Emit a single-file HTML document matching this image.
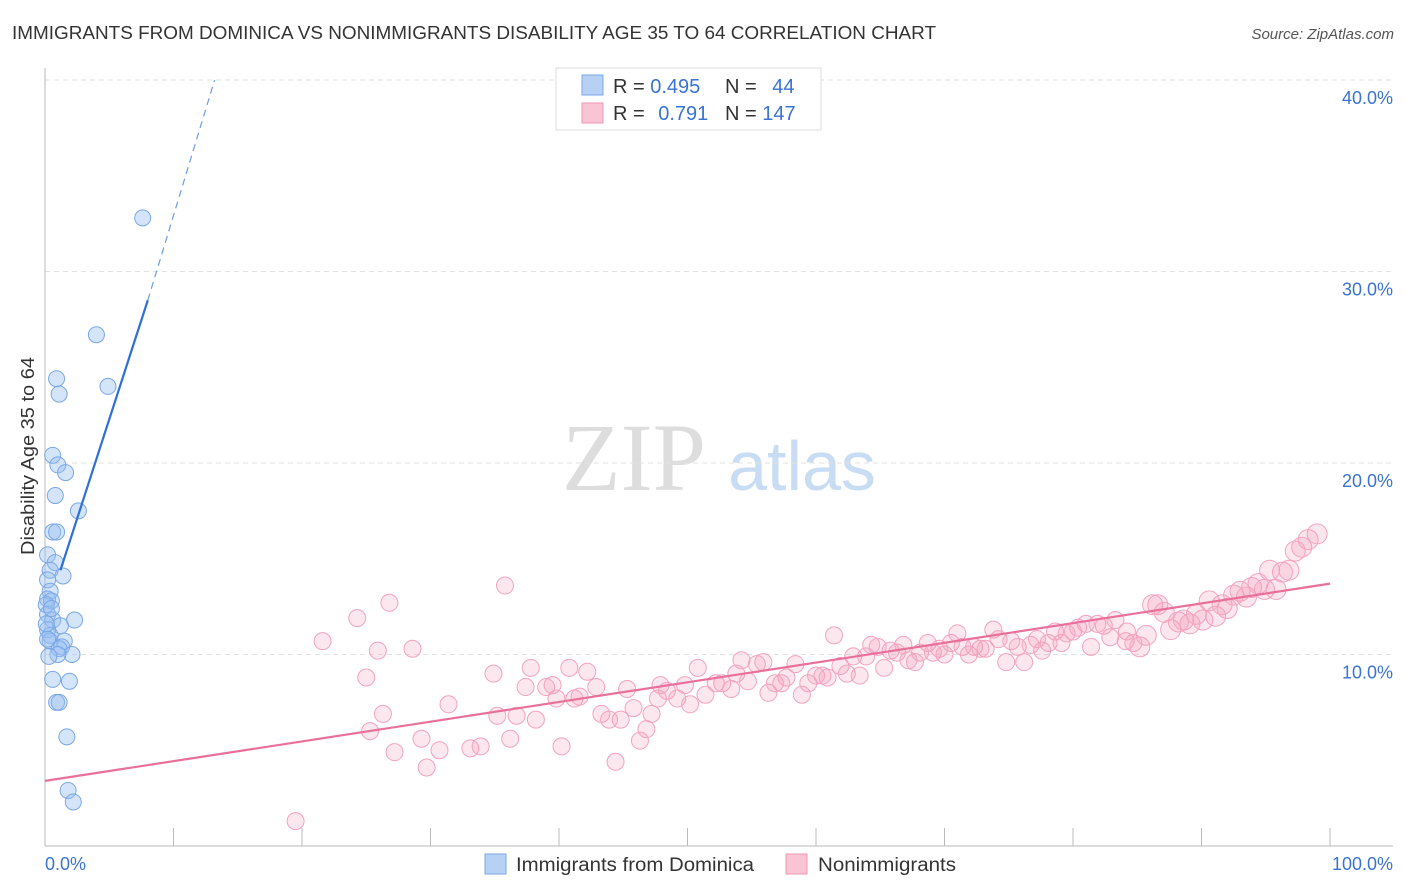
<!DOCTYPE html>
<html><head><meta charset="utf-8"><style>
body{margin:0;background:#fff;font-family:"Liberation Sans",sans-serif;}
svg{display:block}
</style></head><body>
<svg width="1406" height="892" xmlns="http://www.w3.org/2000/svg">
<text x="12" y="39" font-size="18" fill="#333" textLength="924" lengthAdjust="spacingAndGlyphs">IMMIGRANTS FROM DOMINICA VS NONIMMIGRANTS DISABILITY AGE 35 TO 64 CORRELATION CHART</text>
<text x="1394" y="39" font-size="15" fill="#555" font-style="italic" text-anchor="end">Source: ZipAtlas.com</text>
<text x="634" y="490" font-size="96" fill="#ddd" font-family="Liberation Serif,serif" text-anchor="middle">ZIP</text>
<text x="802" y="490" font-size="70" fill="#c8dcf3" text-anchor="middle">atlas</text>
<g id="grid"></g>
<g id="axes"></g>
<text transform="translate(34,456) rotate(-90)" font-size="18" fill="#333" text-anchor="middle" textLength="198" lengthAdjust="spacingAndGlyphs">Disability Age 35 to 64</text>
<g id="marks"></g>
<g>
<rect x="556" y="68" width="265" height="62" fill="#fff" stroke="#ddd"/>
<rect x="582" y="75" width="21" height="20" fill="#b7d1f4" stroke="#7aa7e6"/>
<rect x="582" y="103" width="21" height="20" fill="#f9c5d5" stroke="#f097b3"/>
<text x="613" y="93" font-size="20" fill="#333">R = <tspan fill="#3b73d1">0.495</tspan></text>
<text x="725" y="93" font-size="20" fill="#333">N = <tspan fill="#3b73d1" dx="10">44</tspan></text>
<text x="613" y="120" font-size="20" fill="#333">R = <tspan fill="#3b73d1" dx="8">0.791</tspan></text>
<text x="725" y="120" font-size="20" fill="#333">N = <tspan fill="#3b73d1">147</tspan></text>
</g>
<g>
<rect x="485" y="854" width="21" height="20" fill="#b7d1f4" stroke="#7aa7e6"/>
<text x="516" y="871" font-size="19" fill="#333" textLength="238" lengthAdjust="spacingAndGlyphs">Immigrants from Dominica</text>
<rect x="786" y="854" width="21" height="20" fill="#f9c5d5" stroke="#f097b3"/>
<text x="818" y="871" font-size="19" fill="#333" textLength="138" lengthAdjust="spacingAndGlyphs">Nonimmigrants</text>
</g>
</svg>
<script>
const yTicks=[10,20,30,40];
const yTickLabels=["10.0%","20.0%","30.0%","40.0%"];
const xEndLabels=["0.0%","100.0%"];
const blueX=[7.6,4.0,0.9,4.9,1.1,0.6,1.0,1.6,0.8,2.6,0.6,0.9,0.2,0.8,0.4,1.4,0.2,0.4,0.2,0.5,0.1,0.2,2.3,0.6,1.2,0.2,0.4,0.4,1.5,1.3,1.1,2.1,1.0,0.6,1.9,0.9,1.1,1.7,1.8,2.2,0.2,0.5,0.1,0.3];
const blueY=[32.8,26.7,24.4,24.0,23.6,20.4,19.9,19.5,18.3,17.5,16.4,16.4,15.2,14.8,14.4,14.1,13.9,13.3,12.9,12.8,12.6,12.1,11.8,11.8,11.5,11.3,11.0,10.7,10.7,10.4,10.3,10.0,10.0,8.7,8.6,7.5,7.5,5.7,2.9,2.3,10.8,12.4,11.6,9.9];
const pinkX=[19.5,21.6,24.3,25.0,25.3,25.9,26.8,27.2,26.3,28.6,29.3,29.7,30.7,31.4,33.1,33.9,34.9,35.2,35.8,36.2,36.7,37.4,37.8,38.2,39.0,39.5,39.8,40.2,40.8,41.2,41.6,42.2,42.9,43.3,43.9,44.4,44.8,45.3,45.8,46.3,46.8,47.2,47.7,47.9,48.4,49.2,49.8,50.2,50.8,51.4,52.2,52.7,53.4,53.8,54.2,54.7,55.4,55.9,56.3,56.8,57.3,57.7,58.4,58.9,59.4,60.0,60.5,60.9,61.4,61.9,62.4,62.9,63.4,63.9,64.3,64.8,65.3,65.8,66.3,66.8,67.2,67.7,68.1,68.7,69.1,69.6,70.0,70.5,71.0,71.4,71.9,72.3,72.8,73.2,73.8,74.2,74.8,75.2,75.7,76.2,76.7,77.2,77.6,78.1,78.6,79.1,79.5,80.0,80.4,81.0,81.4,81.9,82.4,82.9,83.3,84.1,84.2,84.7,85.2,85.7,86.2,86.6,87.1,87.6,88.2,88.6,89.1,89.6,90.1,90.6,91.1,91.6,92.0,92.5,93.0,93.5,93.9,94.4,94.9,95.3,95.8,96.3,96.8,97.3,97.8,98.3,99.0];
const pinkY=[1.3,10.7,11.9,8.8,6.0,10.2,12.7,4.9,6.9,10.3,5.6,4.1,5.0,7.4,5.1,5.2,9.0,6.8,13.6,5.6,6.8,8.3,9.3,6.6,8.3,8.4,7.7,5.2,9.3,7.7,7.8,9.1,8.3,6.9,6.6,4.4,6.6,8.2,7.2,5.5,6.1,6.9,7.7,8.4,8.1,7.7,8.4,7.4,9.3,7.9,8.5,8.5,8.2,9.0,9.7,8.6,9.5,9.6,8.0,8.5,8.5,8.8,9.5,7.9,8.5,8.9,8.9,8.8,11.0,9.4,9.0,9.9,8.9,9.9,10.5,10.4,9.3,10.2,10.1,10.5,9.7,9.6,10.1,10.6,10.1,10.3,10.0,10.6,11.1,10.4,10.0,10.4,10.3,10.3,11.3,10.8,9.6,10.7,10.4,9.6,10.5,10.8,10.2,10.6,11.2,10.6,11.1,11.2,11.4,11.6,10.4,11.6,11.5,10.9,11.8,10.7,11.2,10.6,10.4,11.0,12.6,12.6,12.2,11.3,11.7,11.8,11.6,12.1,11.8,12.8,12.0,12.6,12.4,13.1,13.3,13.0,13.5,13.7,13.4,14.4,13.4,14.3,14.4,15.4,15.6,16.0,16.3,16.6,17.9,18.0,20.0];
const X=v=>45+v*12.85, Y=v=>846-v*19.15;
const NS="http://www.w3.org/2000/svg";
function mk(t,a,p){const e=document.createElementNS(NS,t);for(const k in a)e.setAttribute(k,a[k]);p.appendChild(e);return e;}
const grid=document.getElementById('grid'),axes=document.getElementById('axes'),marks=document.getElementById('marks');
yTicks.forEach((t,i)=>{
 const l=mk('line',{x1:45,x2:1393,y1:Y(t),y2:Y(t),stroke:'#e2e2e2','stroke-dasharray':'5,4'},grid);
 
 
 const tx=mk('text',{x:1393,y:Y(t)+24,'font-size':18,fill:'#3b73d1','text-anchor':'end'},axes);
 tx.textContent=yTickLabels[i];
 
 
});
const ax=mk('line',{x1:45,x2:1393,y1:846,y2:846,stroke:'#bbb'},axes);


const ay=mk('line',{x1:45,x2:45,y1:68,y2:846,stroke:'#bbb'},axes);


for(let i=0;i<=10;i++){const t=mk('line',{x1:X(i*10),x2:X(i*10),y1:828,y2:846,stroke:'#bbb'},axes);
 
 }
const xl0=mk('text',{x:45,y:870,'font-size':18,fill:'#3b73d1'},axes);xl0.textContent=xEndLabels[0];


const xl1=mk('text',{x:1393,y:870,'font-size':18,fill:'#3b73d1','text-anchor':'end'},axes);xl1.textContent=xEndLabels[1];


pinkX.forEach((v,i)=>{const r=v>85?10:8.5;
 const c=mk('circle',{cx:X(v),cy:Y(pinkY[i]),r:r,fill:'rgba(244,160,188,0.25)',stroke:'#f3a3bf','stroke-width':1},marks);
 
 });
blueX.forEach((v,i)=>{const c=mk('circle',{cx:X(v),cy:Y(blueY[i]),r:8,fill:'rgba(150,190,240,0.4)',stroke:'#7aa7e6','stroke-width':1},marks);
 
 });
const pl=mk('line',{x1:X(0),y1:Y(3.4),x2:X(100),y2:Y(13.7),stroke:'#e8709a','stroke-width':2.2},marks);


const bl=mk('line',{x1:X(1.2),y1:Y(14.4),x2:X(8.0),y2:Y(28.5),stroke:'#2f6fd6','stroke-width':2.2},marks);


const bd=mk('line',{x1:X(8.0),y1:Y(28.5),x2:X(13.2),y2:Y(40),stroke:'#6a9fe0','stroke-width':1.2,'stroke-dasharray':'7,5'},marks);


</script>
</body></html>
